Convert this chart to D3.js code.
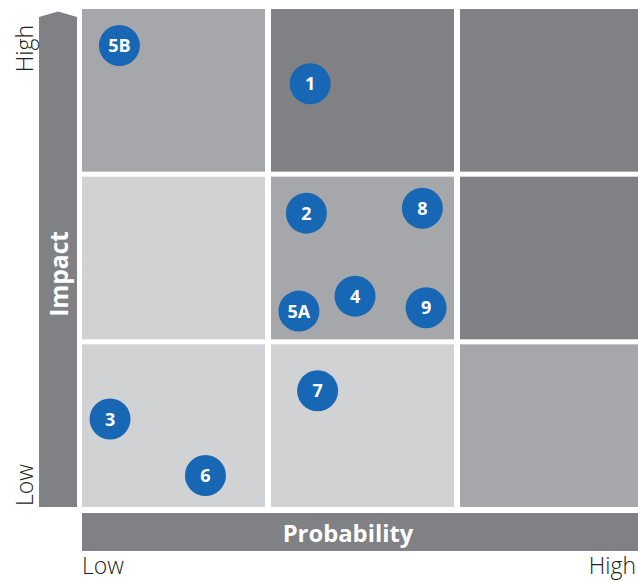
<!DOCTYPE html>
<html><head><meta charset="utf-8">
<script src="https://cdn.jsdelivr.net/npm/d3@7"></script>
<style>body{margin:0;background:#fff}svg{display:block}</style>
</head><body>
<script>
const levels = [0, 1, 2];
// cell shade per [impactRow][probabilityCol], row 0 = low impact
const cellShades = [
  ["#d1d2d4", "#d1d2d4", "#a6a7aa"],
  ["#d1d2d4", "#a6a7aa", "#808184"],
  ["#a6a7aa", "#808184", "#808184"]
];
const riskIds = ["5B", "1", "2", "8", "4", "5A", "9", "7", "3", "6"];
const probability = [0.20, 1.22, 1.20, 1.82, 1.46, 1.16, 1.84, 1.26, 0.15, 0.66];
const impact = [2.78, 2.55, 1.77, 1.80, 1.27, 1.18, 1.20, 0.70, 0.53, 0.19];
const axisTickLabels = ["Low", "High"];

const W = 638, H = 581;
const svg = d3.select("body").append("svg").attr("width", W).attr("height", H);
const font = "'Open Sans', 'Noto Sans', sans-serif";

const colBand = d3.scaleBand().domain(levels).range([82, 643]).paddingInner(6 / 189);
const rowBand = d3.scaleBand().domain(levels).range([507, 9]).paddingInner(5 / 168);
const x = d3.scaleLinear().domain([0, 3]).range([82, 643]);
const y = d3.scaleLinear().domain([0, 3]).range([507, 9]);

const cells = [];
levels.forEach(r => levels.forEach(c => cells.push({r, c, fill: cellShades[r][c]})));
svg.selectAll("rect.cell").data(cells).join("rect").attr("class", "cell")
  .attr("x", d => colBand(d.c)).attr("y", d => rowBand(d.r))
  .attr("width", colBand.bandwidth()).attr("height", rowBand.bandwidth())
  .attr("fill", d => d.fill);

// vertical impact arrow bar
svg.append("path").attr("d", "M39,17 L58,11.5 L77,17 L77,507 L39,507 Z").attr("fill", "#808184");
svg.append("text").attr("transform", "translate(68,274) rotate(-90)")
  .attr("text-anchor", "middle").attr("fill", "#fff").attr("font-family", font)
  .attr("font-weight", "bold").attr("font-size", 24.5).text("Impact");

// horizontal probability bar
svg.append("rect").attr("x", 82).attr("y", 513).attr("width", 556).attr("height", 38).attr("fill", "#808184");
svg.append("text").attr("x", 348).attr("y", 541.5).attr("text-anchor", "middle")
  .attr("fill", "#fff").attr("font-family", font).attr("font-weight", "bold")
  .attr("font-size", 23.8).text("Probability");

// tick labels
const tickStyle = s => s.attr("font-family", font).attr("font-weight", 300)
  .attr("font-size", 23).attr("fill", "#231f20");
svg.append("text").attr("x", 82).attr("y", 574).call(tickStyle).text(axisTickLabels[0]);
svg.append("text").attr("x", 636).attr("y", 574).attr("text-anchor", "end").call(tickStyle).text(axisTickLabels[1]);
svg.append("text").attr("transform", "translate(33,506) rotate(-90)").call(tickStyle).text(axisTickLabels[0]);
svg.append("text").attr("transform", "translate(33,25) rotate(-90)").attr("text-anchor", "end").call(tickStyle).text(axisTickLabels[1]);

const pts = riskIds.map((id, i) => ({id, p: probability[i], im: impact[i]}));
const g = svg.selectAll("g.risk").data(pts).join("g").attr("class", "risk")
  .attr("transform", d => `translate(${x(d.p)},${y(d.im)})`);
g.append("circle").attr("r", 20.5).attr("fill", "#1767b4");
g.append("text").attr("text-anchor", "middle").attr("dy", "0.36em").attr("fill", "#fff")
  .attr("font-family", font).attr("font-weight", "bold").attr("font-size", 18).text(d => d.id);
</script>
</body></html>
